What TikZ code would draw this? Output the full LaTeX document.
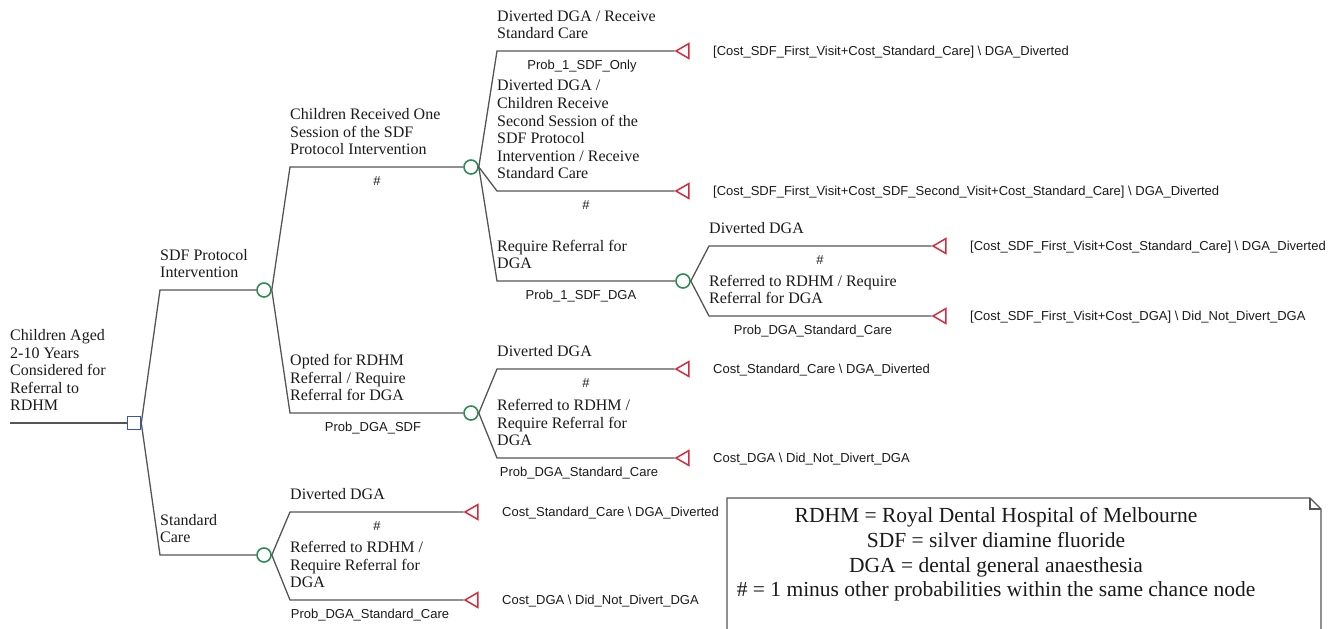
\documentclass[tikz,border=0pt]{standalone}
\usepackage{fontspec}
\setmainfont{Liberation Serif}
\setsansfont{Liberation Sans}
\usetikzlibrary{shapes.geometric}
\definecolor{lineg}{HTML}{555555}
\definecolor{chanceg}{HTML}{2E8B57}
\definecolor{decb}{HTML}{3355BB}
\definecolor{termr}{HTML}{D42A3C}
\definecolor{txt}{HTML}{1A1A1A}
\tikzset{
 edge/.style={draw=lineg, line width=1.3pt},
 chance/.style={circle, draw=chanceg, line width=1.6pt, fill=white, minimum size=14pt, inner sep=0pt},
 decision/.style={rectangle, draw=decb, line width=1.6pt, fill=white, minimum size=13pt, inner sep=0pt},
 terminal/.style={regular polygon, regular polygon sides=3, shape border rotate=90, draw=termr, line width=1.5pt, minimum size=17pt, inner sep=0pt},
 lbl/.style={anchor=south west, inner sep=0pt, align=left, text depth=0pt, text=txt, font=\fontsize{16}{17.6}\selectfont},
 prob/.style={anchor=base, inner sep=0pt, text=txt, font=\sffamily\fontsize{13}{15}\selectfont},
 payoff/.style={anchor=base west, inner sep=0pt, text=txt, font=\sffamily\fontsize{13}{15}\selectfont},
 legend/.style={anchor=north, inner sep=0pt, align=center, text=txt, font=\fontsize{21.5}{24.7}\selectfont},
 legbox/.style={draw=lineg, line width=1.2pt},
}
\begin{document}
\begin{tikzpicture}[x=1pt,y=-1pt]
\useasboundingbox (0,0) rectangle (1341,629);
% nodes
\coordinate (r0) at (10,423);
\node[decision] (d) at (134,423) {};
\node[chance] (c1) at (264,290) {};
\node[chance] (c2) at (264,555) {};
\node[chance] (c11) at (471,167) {};
\node[chance] (c12) at (471,413) {};
\node[chance] (c113) at (683,281) {};
\node[terminal] (t111) at (684.5,51) {};
\node[terminal] (t112) at (684.5,191) {};
\node[terminal] (t1131) at (941.5,246) {};
\node[terminal] (t1132) at (941.5,316) {};
\node[terminal] (t121) at (684.5,369) {};
\node[terminal] (t122) at (684.5,458) {};
\node[terminal] (t21) at (473.5,512) {};
\node[terminal] (t22) at (473.5,600) {};
% edges
\draw[edge] (r0) -- (d.west);
\draw[edge] (d.east) -- (160,290) -- (c1.west);
\draw[edge] (d.east) -- (160,555) -- (c2.west);
\draw[edge] (c1.east) -- (290,167) -- (c11.west);
\draw[edge] (c1.east) -- (290,413) -- (c12.west);
\draw[edge] (c11.east) -- (497,51) -- (t111.corner 1);
\draw[edge] (c11.east) -- (497,191) -- (t112.corner 1);
\draw[edge] (c11.east) -- (497,281) -- (c113.west);
\draw[edge] (c113.east) -- (709,246) -- (t1131.corner 1);
\draw[edge] (c113.east) -- (709,316) -- (t1132.corner 1);
\draw[edge] (c12.east) -- (497,369) -- (t121.corner 1);
\draw[edge] (c12.east) -- (497,458) -- (t122.corner 1);
\draw[edge] (c2.east) -- (290,512) -- (t21.corner 1);
\draw[edge] (c2.east) -- (290,600) -- (t22.corner 1);
% branch labels
\node[lbl] (l0) at (10,411) {Children Aged\\2-10 Years\\Considered for\\Referral to\\RDHM};
\node[lbl] (l1) at (160,278) {SDF Protocol\\Intervention};
\node[lbl] (l2) at (160,543) {Standard\\Care};
\node[lbl] (l11) at (290,155) {Children Received One\\Session of the SDF\\Protocol Intervention};
\node[lbl] (l12) at (290,401) {Opted for RDHM\\Referral / Require\\Referral for DGA};
\node[lbl] (l111) at (497,39) {Diverted DGA / Receive\\Standard Care};
\node[lbl] (l112) at (497,179) {Diverted DGA /\\Children Receive\\Second Session of the\\SDF Protocol\\Intervention / Receive\\Standard Care};
\node[lbl] (l113) at (497,269) {Require Referral for\\DGA};
\node[lbl] (l1131) at (709,234) {Diverted DGA};
\node[lbl] (l1132) at (709,304) {Referred to RDHM / Require\\Referral for DGA};
\node[lbl] (l121) at (497,357) {Diverted DGA};
\node[lbl] (l122) at (497,446) {Referred to RDHM /\\Require Referral for\\DGA};
\node[lbl] (l21) at (290,500) {Diverted DGA};
\node[lbl] (l22) at (290,588) {Referred to RDHM /\\Require Referral for\\DGA};
% probabilities
\node[prob] (p11) at (377,185) {\#};
\node[prob] (p12) at (373,431) {Prob\_DGA\_SDF};
\node[prob] (p111) at (582,69) {Prob\_1\_SDF\_Only};
\node[prob] (p112) at (586,209) {\#};
\node[prob] (p113) at (581,299) {Prob\_1\_SDF\_DGA};
\node[prob] (p1131) at (820,264) {\#};
\node[prob] (p1132) at (813,334) {Prob\_DGA\_Standard\_Care};
\node[prob] (p121) at (586,387) {\#};
\node[prob] (p122) at (579,476) {Prob\_DGA\_Standard\_Care};
\node[prob] (p21) at (377,530) {\#};
\node[prob] (p22) at (370,618) {Prob\_DGA\_Standard\_Care};
% payoffs
\node[payoff] (v111) at (713,55.5) {[Cost\_SDF\_First\_Visit+Cost\_Standard\_Care] \textbackslash\ DGA\_Diverted};
\node[payoff] (v112) at (713,195.5) {[Cost\_SDF\_First\_Visit+Cost\_SDF\_Second\_Visit+Cost\_Standard\_Care] \textbackslash\ DGA\_Diverted};
\node[payoff] (v1131) at (970,250.5) {[Cost\_SDF\_First\_Visit+Cost\_Standard\_Care] \textbackslash\ DGA\_Diverted};
\node[payoff] (v1132) at (970,320.5) {[Cost\_SDF\_First\_Visit+Cost\_DGA] \textbackslash\ Did\_Not\_Divert\_DGA};
\node[payoff] (v121) at (713,373.5) {Cost\_Standard\_Care \textbackslash\ DGA\_Diverted};
\node[payoff] (v122) at (713,462.5) {Cost\_DGA \textbackslash\ Did\_Not\_Divert\_DGA};
\node[payoff] (v21) at (502,516.5) {Cost\_Standard\_Care \textbackslash\ DGA\_Diverted};
\node[payoff] (v22) at (502,604.5) {Cost\_DGA \textbackslash\ Did\_Not\_Divert\_DGA};
% legend
\draw[legbox] (727,629) -- (727,498) -- (1310,498) -- (1321,509) -- (1321,629);
\draw[legbox] (1310,498) -- (1310,509) -- (1321,509);
\node[legend] (leg) at (996,507.5) {RDHM = Royal Dental Hospital of Melbourne\\SDF = silver diamine fluoride\\DGA = dental general anaesthesia\\\# = 1 minus other probabilities within the same chance node};
\end{tikzpicture}
\end{document}
